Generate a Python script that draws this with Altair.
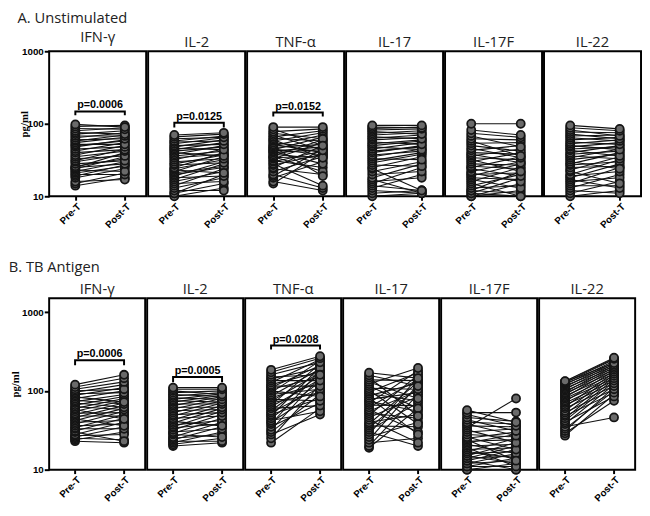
import altair as alt
import pandas as pd

cytokines = ["IFN-γ", "IL-2", "TNF-α", "IL-17", "IL-17F", "IL-22"]
times = ["Pre-T", "Post-T"]
y_ticks = [10, 100, 1000]

# ---------------- A. Unstimulated ----------------
a_ifng_pre = [14, 15, 16, 18, 19, 20, 21, 22, 23, 24, 25, 25, 26, 28, 30, 31, 33, 35, 37, 40, 42, 45, 48, 50, 52, 55, 58, 60, 64, 68, 72, 76, 80, 86, 92, 98]
a_ifng_post = [18, 21, 17, 24, 27, 20, 26, 30, 22, 35, 28, 40, 33, 31, 38, 45, 36, 42, 50, 44, 55, 48, 60, 58, 52, 65, 70, 62, 75, 68, 80, 72, 88, 84, 95, 90]
a_il2_pre = [10, 11, 11, 12, 13, 14, 15, 16, 17, 18, 19, 20, 21, 22, 23, 24, 25, 27, 28, 30, 32, 34, 36, 38, 40, 42, 44, 46, 48, 50, 53, 56, 58, 62, 66, 70]
a_il2_post = [13, 15, 20, 12, 18, 24, 16, 22, 28, 19, 30, 25, 26, 35, 21, 32, 40, 29, 37, 33, 45, 38, 42, 50, 36, 48, 55, 44, 60, 52, 64, 58, 68, 65, 72, 75]
a_tnf_pre = [15, 16, 18, 19, 20, 22, 24, 25, 27, 28, 30, 31, 33, 34, 35, 36, 38, 40, 41, 42, 44, 45, 47, 48, 50, 52, 55, 58, 60, 63, 66, 70, 74, 78, 84, 90]
a_tnf_post = [40, 12, 30, 45, 13, 35, 20, 50, 38, 14, 42, 25, 55, 36, 22, 60, 33, 44, 28, 48, 65, 37, 52, 19, 70, 40, 46, 75, 34, 58, 80, 43, 62, 85, 50, 90]
a_il17_pre = [10, 11, 12, 13, 14, 15, 16, 17, 18, 20, 22, 24, 25, 27, 29, 31, 33, 35, 37, 40, 42, 45, 48, 50, 53, 56, 60, 63, 66, 70, 74, 78, 82, 86, 90, 95]
a_il17_post = [11, 12, 11, 20, 12, 25, 18, 11, 28, 22, 30, 12, 35, 26, 38, 40, 32, 45, 42, 50, 48, 55, 44, 58, 60, 52, 65, 70, 62, 75, 80, 72, 85, 90, 88, 95]
a_il17f_pre = [10, 10, 11, 11, 12, 12, 13, 14, 15, 16, 17, 18, 19, 20, 21, 22, 24, 25, 26, 28, 30, 32, 34, 36, 38, 40, 43, 46, 50, 54, 58, 62, 68, 74, 82, 100]
a_il17f_post = [12, 15, 10, 18, 11, 22, 14, 20, 10, 25, 13, 17, 28, 21, 16, 30, 19, 35, 24, 27, 40, 22, 32, 45, 29, 38, 50, 34, 42, 55, 36, 60, 48, 65, 70, 100]
a_il22_pre = [10, 11, 12, 13, 14, 15, 16, 17, 18, 19, 20, 22, 23, 25, 27, 28, 30, 32, 34, 36, 38, 40, 43, 45, 48, 50, 53, 56, 60, 64, 68, 72, 77, 82, 88, 95]
a_il22_post = [12, 16, 11, 20, 14, 25, 18, 13, 28, 22, 32, 15, 35, 26, 30, 40, 24, 38, 45, 33, 42, 50, 36, 48, 55, 44, 60, 52, 65, 58, 70, 62, 75, 68, 80, 85]

# ---------------- B. TB Antigen ----------------
b_ifng_pre = [23, 24, 25, 26, 27, 28, 30, 31, 33, 34, 36, 38, 40, 42, 44, 46, 48, 50, 52, 55, 58, 60, 63, 66, 70, 73, 76, 80, 84, 88, 92, 96, 100, 105, 112, 120]
b_ifng_post = [22, 30, 24, 35, 28, 40, 23, 45, 33, 50, 38, 55, 42, 60, 36, 65, 48, 70, 53, 75, 44, 80, 58, 85, 62, 90, 68, 100, 72, 110, 95, 120, 105, 130, 145, 160]
b_il2_pre = [20, 21, 22, 23, 24, 25, 26, 28, 29, 30, 32, 34, 35, 37, 39, 41, 43, 45, 48, 50, 53, 56, 59, 62, 65, 68, 72, 75, 78, 82, 86, 90, 95, 100, 105, 110]
b_il2_post = [22, 25, 30, 23, 35, 28, 40, 26, 45, 33, 50, 38, 55, 42, 60, 36, 65, 48, 70, 53, 75, 58, 80, 62, 85, 68, 88, 72, 92, 78, 95, 85, 100, 90, 105, 110]
b_tnf_pre = [22, 25, 28, 30, 32, 35, 38, 40, 42, 45, 48, 50, 53, 56, 60, 63, 66, 70, 74, 78, 82, 86, 90, 95, 100, 105, 110, 115, 120, 128, 135, 142, 150, 160, 172, 185]
b_tnf_post = [60, 120, 50, 90, 150, 70, 180, 100, 55, 130, 200, 80, 110, 160, 65, 140, 220, 95, 170, 75, 125, 190, 105, 240, 85, 150, 210, 115, 175, 250, 135, 195, 160, 230, 260, 275]
b_il17_pre = [19, 20, 22, 24, 26, 28, 30, 32, 34, 36, 38, 40, 43, 46, 49, 52, 55, 58, 62, 66, 70, 74, 78, 82, 87, 92, 97, 102, 108, 115, 122, 130, 138, 148, 158, 170]
b_il17_post = [60, 90, 25, 120, 40, 150, 20, 70, 110, 35, 130, 50, 22, 85, 160, 45, 100, 30, 140, 65, 180, 55, 95, 28, 125, 75, 170, 38, 105, 60, 195, 80, 135, 48, 115, 145]
b_il17f_pre = [10, 10, 11, 11, 12, 12, 13, 13, 14, 14, 15, 15, 16, 17, 17, 18, 19, 20, 21, 22, 23, 24, 25, 26, 28, 30, 32, 34, 36, 38, 40, 43, 46, 50, 53, 57]
b_il17f_post = [12, 10, 14, 11, 16, 13, 18, 10, 15, 20, 12, 22, 17, 14, 25, 19, 11, 21, 16, 28, 24, 13, 30, 18, 26, 33, 22, 80, 35, 27, 38, 31, 41, 36, 53, 40]
b_il22_pre = [27, 29, 31, 33, 35, 38, 40, 42, 45, 48, 50, 53, 56, 60, 63, 66, 70, 73, 76, 80, 83, 86, 90, 93, 96, 100, 104, 108, 112, 116, 120, 124, 128, 130, 132, 133]
b_il22_post = [90, 75, 110, 100, 46, 120, 85, 130, 140, 95, 150, 105, 160, 115, 170, 125, 135, 180, 145, 155, 190, 165, 200, 175, 210, 185, 220, 195, 230, 205, 240, 215, 250, 225, 255, 263]

# p-value brackets: (label, bracket level, end-tick level)
a_brackets = [("p=0.0006", 148, 131), ("p=0.0125", 103, 89), ("p=0.0152", 143, 126), None, None, None]
b_brackets = [("p=0.0006", 244, 211), ("p=0.0005", 150, 129), ("p=0.0208", 376, 335), None, None, None]

a_data = [(a_ifng_pre, a_ifng_post), (a_il2_pre, a_il2_post), (a_tnf_pre, a_tnf_post),
          (a_il17_pre, a_il17_post), (a_il17f_pre, a_il17f_post), (a_il22_pre, a_il22_post)]
b_data = [(b_ifng_pre, b_ifng_post), (b_il2_pre, b_il2_post), (b_tnf_pre, b_tnf_post),
          (b_il17_pre, b_il17_post), (b_il17f_pre, b_il17f_post), (b_il22_pre, b_il22_post)]


def panel(pre, post, title, first, ymax, width, height, bracket, st):
    rows = []
    for i, (a, b) in enumerate(zip(pre, post)):
        rows.append({"id": i, "time": "Pre-T", "value": a})
        rows.append({"id": i, "time": "Post-T", "value": b})
    df = pd.DataFrame(rows)

    x_axis = alt.Axis(title=None, labelAngle=-45, labelFont="Liberation Sans", labelFontWeight="bold",
                      labelFontSize=10, labelColor="black", tickSize=4, tickWidth=2, tickColor="black",
                      domain=False, labelPadding=1)
    x = alt.X("time:N", sort=times,
              scale=alt.Scale(type="point", domain=times, range=[0.27 * width, 0.78 * width], padding=0),
              axis=x_axis)
    if first:
        y_axis = alt.Axis(values=y_ticks, format="d", title="pg/ml", titleFont="Liberation Serif",
                          titleFontSize=11, titleFontWeight="bold", titleColor="black",
                          titlePadding=st["tp"],
                          labelFont="Liberation Sans", labelFontWeight="bold", labelFontSize=10,
                          labelColor="black", tickSize=5, tickWidth=2, tickColor="black",
                          domain=False, grid=False, labelPadding=1)
    else:
        y_axis = None
    y = alt.Y("value:Q", scale=alt.Scale(type="log", domain=[10, ymax], nice=False), axis=y_axis)

    lines = alt.Chart(df).mark_line(color="#111111", strokeWidth=1.1).encode(x=x, y=y, detail="id:N")
    points = alt.Chart(df).mark_point(filled=True, shape="circle", size=68, fill="#6a6a6a",
                                      stroke="#151515", strokeWidth=1.8, opacity=1).encode(x=x, y=y)
    layers = [lines, points]
    if bracket is not None:
        label, top, end = bracket
        bdf = pd.DataFrame({"time": ["Pre-T", "Pre-T", "Post-T", "Post-T"],
                            "value": [end, top, top, end], "o": [0, 1, 2, 3]})
        br = alt.Chart(bdf).mark_line(color="black", strokeWidth=2).encode(x=x, y=y, order="o:Q")
        tdf = pd.DataFrame({"time": ["Pre-T"], "value": [top], "label": [label]})
        tx = alt.Chart(tdf).mark_text(dx=0.255 * width, dy=-1, baseline="bottom", align="center",
                                      font="Liberation Sans", fontWeight="bold", fontSize=11,
                                      color="black").encode(x=x, y=y, text="label:N")
        layers += [br, tx]
    return alt.layer(*layers).properties(
        width=width, height=height,
        title=alt.TitleParams(title, font="Open Sans", fontSize=15, fontWeight="normal",
                              color="#222222", offset=st["po"]))


row_a = alt.hconcat(
    *[panel(p, q, c, i == 0, 1000, 99, 148, a_brackets[i], {"tp": -8, "po": 1})
      for i, ((p, q), c) in enumerate(zip(a_data, cytokines))],
    spacing=0
).properties(title=alt.TitleParams("A. Unstimulated", anchor="start", font="Open Sans", fontSize=15,
                                   fontWeight="normal", color="#222222", offset=4))

row_b = alt.hconcat(
    *[panel(p, q, c, i == 0, 1500, 98, 175, b_brackets[i], {"tp": 1, "po": 1})
      for i, ((p, q), c) in enumerate(zip(b_data, cytokines))],
    spacing=0
).properties(title=alt.TitleParams("B. TB Antigen", anchor="start", font="Open Sans", fontSize=15,
                                   fontWeight="normal", color="#222222", offset=7))

chart = alt.concat(row_a, row_b, columns=1, spacing=29, align="none").properties(
    padding={"left": 0, "top": -2, "right": 0, "bottom": 0}
).configure_view(stroke="black", strokeWidth=2)

chart.save("out.html", embed_options={"renderer": "svg", "actions": False})
